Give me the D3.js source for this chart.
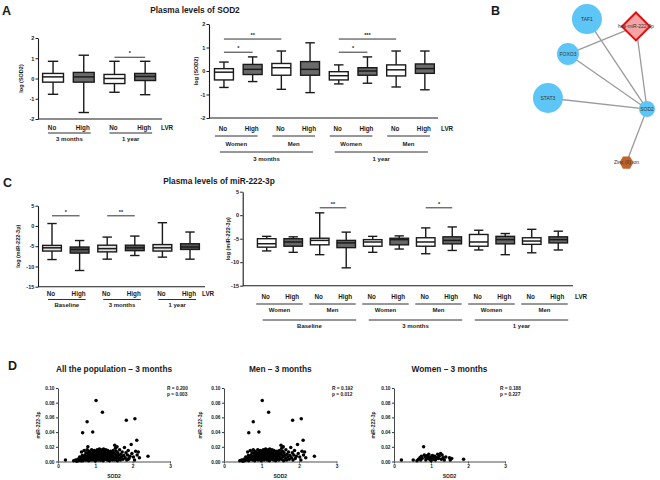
<!DOCTYPE html>
<html><head><meta charset="utf-8">
<script src="https://cdn.jsdelivr.net/npm/d3@7"></script>
<style>body{margin:0;background:#fff}</style>
</head><body>
<svg id="chart" width="660" height="480"></svg>
<script>
// ================= DATA =================
const lvr = ["No", "High"];
const sodTicks = [-2, -1, 0, 1, 2];
const mirTicks = [-15, -10, -5, 0, 5];
const scatterYTicks = [0, 0.02, 0.04, 0.06, 0.08, 0.10];
const scatterXTicks = [0, 1, 2, 3];
const timeTwo = ["3 months", "1 year"];
const timeThree = ["Baseline", "3 months", "1 year"];
const sexTwo = ["Women", "Men", "Women", "Men"];
const sexThree = ["Women", "Men", "Women", "Men", "Women", "Men"];

// box stats: [min, q1, median, q3, max]
const sodByTime = [
  [-0.78, -0.18, 0.08, 0.25, 0.85],
  [-1.68, -0.18, 0.08, 0.30, 1.15],
  [-0.68, -0.25, 0.00, 0.20, 0.85],
  [-0.80, -0.10, 0.10, 0.25, 0.85]
];
const sodBySex = [
  [-0.70, -0.38, -0.05, 0.10, 0.38],
  [-0.45, -0.15, 0.07, 0.28, 0.60],
  [-0.78, -0.18, 0.14, 0.32, 0.85],
  [-0.92, -0.18, 0.07, 0.40, 1.20],
  [-0.55, -0.38, -0.20, -0.03, 0.26],
  [-0.52, -0.18, 0.00, 0.14, 0.60],
  [-0.68, -0.21, 0.05, 0.26, 0.85],
  [-0.80, -0.10, 0.10, 0.30, 0.85]
];
const mirByTime = [
  [-8.3, -6.2, -5.4, -4.8, 0.6],
  [-11.0, -6.7, -5.8, -5.2, -3.6],
  [-8.2, -6.4, -5.6, -4.75, -2.75],
  [-7.3, -6.1, -5.4, -4.75, -2.5],
  [-7.7, -6.2, -5.4, -4.6, 0.8],
  [-8.2, -5.8, -5.2, -4.4, -1.5]
];
const mirBySex = [
  [-7.6, -6.8, -6.07, -5.0, -4.5],
  [-7.9, -6.6, -5.7, -5.0, -4.6],
  [-8.4, -6.3, -5.36, -4.9, 0.5],
  [-11.2, -6.9, -5.9, -5.36, -3.6],
  [-7.9, -6.6, -5.7, -5.2, -4.5],
  [-7.2, -6.3, -5.2, -4.9, -4.4],
  [-8.2, -6.6, -5.7, -4.8, -2.7],
  [-7.5, -6.1, -5.36, -4.6, -2.5],
  [-7.4, -6.6, -5.7, -4.1, -3.2],
  [-8.4, -6.1, -5.2, -4.5, -3.9],
  [-8.0, -6.2, -5.5, -4.8, -3.0],
  [-7.4, -5.9, -5.2, -4.6, -3.4]
];
// significance: [boxA, boxB, level, label]
const sigSodByTime = [[2, 3, 1.05, "*"]];
const sigSodBySex = [[0, 1, 0.8, "*"], [0, 2, 1.36, "**"], [4, 5, 0.8, "*"], [4, 6, 1.36, "***"]];
const sigMirByTime = [[0, 1, 2.5, "*"], [2, 3, 2.5, "**"]];
const sigMirBySex = [[2, 3, 1.57, "**"], [6, 7, 1.57, "*"]];

// network
const netNodes = [
  {id: "TAF1", type: "gene"}, {id: "hsa-miR-222-3p", type: "mirna"}, {id: "FOXO3", type: "gene"},
  {id: "STAT3", type: "gene"}, {id: "SOD2", type: "gene"}, {id: "Zinc (II) ion", type: "chem"}
];
const netEdges = [
  ["TAF1", "SOD2"], ["hsa-miR-222-3p", "SOD2"], ["hsa-miR-222-3p", "FOXO3"],
  ["FOXO3", "SOD2"], ["STAT3", "SOD2"], ["SOD2", "Zinc (II) ion"]
];

// scatter: [SOD2, miR-222-3p]
const menPoints = [
  [1.02,0.083],[1.19,0.067],[0.78,0.054],[0.66,0.039],[0.93,0.040],[1.83,0.056],[2.06,0.058],[2.11,0.029],
  [0.42,0.001],[0.47,0.002],[0.50,0.0005],[0.53,0.003],[0.55,0.001],[0.58,0.006],[0.60,0.002],[0.62,0.004],
  [0.63,0.013],[0.65,0.008],[0.66,0.001],[0.68,0.005],[0.70,0.015],[0.71,0.003],[0.72,0.009],[0.74,0.006],
  [0.75,0.012],[0.76,0.002],[0.78,0.016],[0.79,0.007],[0.80,0.004],[0.80,0.011],
  [0.82,0.001],[0.83,0.014],[0.84,0.006],[0.85,0.009],[0.86,0.003],[0.87,0.012],[0.88,0.005],[0.90,0.016],
  [0.90,0.008],[0.91,0.002],[0.92,0.011],[0.93,0.006],[0.94,0.013],[0.95,0.003],[0.96,0.009],[0.97,0.015],
  [0.98,0.005],[0.99,0.001],[1.00,0.011],[1.00,0.007],
  [1.01,0.003],[1.02,0.014],[1.03,0.009],[1.04,0.005],[1.05,0.016],[1.06,0.012],[1.07,0.002],[1.08,0.008],
  [1.09,0.013],[1.10,0.004],[1.11,0.017],[1.12,0.010],[1.13,0.006],[1.14,0.015],[1.15,0.002],[1.16,0.011],
  [1.17,0.007],[1.18,0.016],[1.19,0.004],[1.20,0.013],[1.20,0.009],
  [1.21,0.001],[1.22,0.017],[1.23,0.006],[1.24,0.011],[1.25,0.014],[1.26,0.003],[1.27,0.008],[1.28,0.016],
  [1.29,0.005],[1.30,0.012],[1.31,0.009],[1.32,0.002],[1.33,0.015],[1.34,0.007],[1.35,0.011],[1.36,0.004],
  [1.37,0.013],[1.38,0.001],[1.39,0.009],[1.40,0.006],
  [1.41,0.014],[1.42,0.003],[1.43,0.010],[1.44,0.007],[1.45,0.012],[1.46,0.002],[1.47,0.008],[1.48,0.015],
  [1.50,0.005],[1.51,0.011],[1.52,0.022],[1.53,0.003],[1.54,0.018],[1.55,0.009],[1.56,0.014],[1.57,0.006],
  [1.58,0.020],[1.59,0.001],[1.60,0.012],
  [1.62,0.008],[1.64,0.004],[1.65,0.016],[1.67,0.002],[1.68,0.010],[1.70,0.006],[1.72,0.013],[1.74,0.003],
  [1.76,0.008],[1.78,0.019],[1.80,0.005],[1.82,0.012],[1.84,0.002],[1.86,0.009],[1.88,0.015],[1.90,0.004],
  [1.93,0.007],[1.96,0.023],[1.98,0.011],
  [2.02,0.006],[2.05,0.002],[2.08,0.014],[2.12,0.009],[2.15,0.013],[2.18,0.005],[2.41,0.007]
];
const womenPoints = [
  [0.20,0.002],[0.52,0.002],[0.62,0.001],[0.66,0.003],[0.70,0.005],[0.72,0.002],[0.74,0.007],[0.76,0.004],
  [0.80,0.020],[0.82,0.009],[0.84,0.006],[0.86,0.002],[0.88,0.004],[0.90,0.008],[0.92,0.005],[0.94,0.010],
  [0.96,0.003],[0.98,0.006],[1.00,0.001],[1.02,0.004],[1.04,0.008],[1.06,0.003],[1.08,0.006],[1.10,0.007],
  [1.12,0.002],[1.15,0.005],[1.18,0.010],[1.20,0.004],[1.22,0.007],[1.26,0.011],[1.28,0.003],[1.30,0.009],
  [1.33,0.005],[1.36,0.002],[1.40,0.006],[1.50,0.005],[1.52,0.002],[1.56,0.004],[1.88,0.003]
];
const corrStats = [
  {title: "All the population \u2013 3 months", R: "0.200", p: "0.003"},
  {title: "Men \u2013 3 months", R: "0.192", p: "0.012"},
  {title: "Women \u2013 3 months", R: "0.188", p: "0.227"}
];

// ================= DRAWING =================
const svg = d3.select("#chart");
const FONT = "'Liberation Sans', Arial, Helvetica, sans-serif";
const INK = "#1a1a1a";

function addText(g, x, y, s, size, anchor = "middle", weight = "bold", fill = INK) {
  return g.append("text").attr("x", x).attr("y", y).attr("font-size", size)
    .attr("font-weight", weight).attr("text-anchor", anchor).attr("fill", fill)
    .attr("font-family", FONT).text(s);
}
function addVText(g, x, y, s, size) {
  return g.append("text").attr("transform", `translate(${x},${y}) rotate(-90)`)
    .attr("font-size", size).attr("font-weight", "bold").attr("text-anchor", "middle")
    .attr("fill", INK).attr("font-family", FONT).text(s);
}

function boxPanel(c) {
  const g = svg.append("g");
  const y = d3.scaleLinear().domain(c.domain).range(c.yRange);
  const x = d3.scaleBand().domain(d3.range(c.stats.length)).range(c.band);
  const step = x.step(), bw = step * c.boxRatio, cap = bw * 0.5;
  const cx = i => x(i) + step / 2;

  const ax = g.append("g").attr("transform", `translate(${c.axisX},0)`)
    .call(d3.axisLeft(y).tickValues(c.ticks).tickSize(2.5).tickSizeOuter(0).tickPadding(1.2).tickFormat(d => String(d)));
  ax.select(".domain").attr("stroke", INK).attr("stroke-width", 1.1);
  ax.selectAll(".tick line").attr("stroke", INK).attr("stroke-width", 1);
  ax.selectAll(".tick text").attr("font-size", 5.5).attr("font-weight", "bold")
    .attr("font-family", FONT).attr("fill", INK);
  const yb = y(c.domain[0]);
  g.append("line").attr("x1", c.axisX).attr("x2", c.axisEnd).attr("y1", yb).attr("y2", yb)
    .attr("stroke", INK).attr("stroke-width", 1.1);
  addVText(g, c.ylabelX, (c.yRange[0] + c.yRange[1]) / 2, c.ylabel, 5.5);

  c.stats.forEach((s, i) => {
    const [mn, q1, md, q3, mx] = s;
    const xc = cx(i);
    const bg = g.append("g").attr("stroke", INK).attr("stroke-width", 1.4);
    bg.append("line").attr("x1", xc).attr("x2", xc).attr("y1", y(mn)).attr("y2", y(mx));
    bg.append("line").attr("x1", xc - cap / 2).attr("x2", xc + cap / 2).attr("y1", y(mn)).attr("y2", y(mn));
    bg.append("line").attr("x1", xc - cap / 2).attr("x2", xc + cap / 2).attr("y1", y(mx)).attr("y2", y(mx));
    bg.append("rect").attr("x", xc - bw / 2).attr("width", bw).attr("y", y(q3)).attr("height", y(q1) - y(q3))
      .attr("fill", c.fills[i % 2]);
    bg.append("line").attr("x1", xc - bw / 2).attr("x2", xc + bw / 2).attr("y1", y(md)).attr("y2", y(md))
      .attr("stroke-width", 1.5);
  });

  c.sig.forEach(([a, b, lvl, lab]) => {
    g.append("line").attr("x1", cx(a)).attr("x2", cx(b)).attr("y1", y(lvl)).attr("y2", y(lvl))
      .attr("stroke", INK).attr("stroke-width", 0.9);
    addText(g, (cx(a) + cx(b)) / 2, y(lvl) - 2.2, lab, 5.5);
  });

  c.stats.forEach((s, i) => addText(g, cx(i) - 1, c.row1Y, lvr[i % 2], 6.3));
  addText(g, c.lvrX, c.row1Y, "LVR", 6.3, "start");

  c.levels.forEach(lv => {
    lv.labels.forEach((lab, k) => {
      const x1 = cx(k * lv.size) + lv.padL, x2 = cx(k * lv.size + lv.size - 1) + lv.padR;
      g.append("line").attr("x1", x1).attr("x2", x2).attr("y1", lv.lineY).attr("y2", lv.lineY)
        .attr("stroke", INK).attr("stroke-width", 0.9);
      addText(g, (x1 + x2) / 2, lv.textY, lab, 6);
    });
  });
}

function scatterPanel(c) {
  const g = svg.append("g");
  const x = d3.scaleLinear().domain([0, 3]).range(c.xRange);
  const y = d3.scaleLinear().domain([0, 0.1]).range([461.5, 388]);
  const ay = g.append("g").attr("transform", `translate(${c.xRange[0]},0)`)
    .call(d3.axisLeft(y).tickValues(scatterYTicks).tickSize(2).tickSizeOuter(0).tickPadding(1.5).tickFormat(d3.format(".2f")));
  ay.select(".domain").attr("stroke", "#333").attr("stroke-width", 0.9);
  ay.selectAll(".tick line").attr("stroke", "#333");
  const axx = g.append("g").attr("transform", `translate(0,${y(0)})`)
    .call(d3.axisBottom(x).tickValues(scatterXTicks).tickSize(2).tickSizeOuter(0).tickPadding(1.5).tickFormat(d3.format("d")));
  axx.select(".domain").attr("stroke", "#8a8a8a").attr("stroke-width", 1.3);
  axx.selectAll(".tick line").attr("stroke", "#555");
  [ay, axx].forEach(a => a.selectAll(".tick text").attr("font-size", 4.8).attr("font-weight", "bold")
    .attr("font-family", FONT).attr("fill", INK));
  g.selectAll("circle.pt").data(c.points).join("circle").attr("class", "pt")
    .attr("cx", d => x(d[0])).attr("cy", d => y(d[1])).attr("r", 1.75).attr("fill", "#000");
  const mid = (c.xRange[0] + c.xRange[1]) / 2;
  addText(g, mid, 372, c.stat.title, 8.3);
  addText(g, mid, 478, "SOD2", 5);
  addVText(g, c.ylabelX, 425, "miR-222-3p", 5);
  addText(g, c.statX, 390, "R = " + c.stat.R, 4.8, "start");
  addText(g, c.statX, 396, "p =  " + c.stat.p, 4.8, "start");
}

// panel letters and titles
const heads = svg.append("g");
addText(heads, 2, 15, "A", 12.5, "start");
addText(heads, 491, 15, "B", 12.5, "start");
addText(heads, 3, 187, "C", 12.5, "start");
addText(heads, 8, 370, "D", 12.5, "start");
addText(heads, 195, 13, "Plasma levels of SOD2", 8.3);
addText(heads, 219, 184, "Plasma levels of miR-222-3p", 8.3);

// Panel A
boxPanel({
  stats: sodByTime, domain: [-2, 2], yRange: [119, 38], band: [37.7, 160.5], axisX: 38, axisEnd: 162,
  ticks: sodTicks, boxRatio: 0.68, fills: ["#ffffff", "#6b6b6b"], ylabel: "log (SOD2)", ylabelX: 23,
  sig: sigSodByTime, row1Y: 129.5, lvrX: 161,
  levels: [{size: 2, labels: timeTwo, lineY: 133, textY: 140.5, padL: -5, padR: 7}]
});
boxPanel({
  stats: sodBySex, domain: [-2, 2], yRange: [118, 24], band: [209.6, 439.2], axisX: 209, axisEnd: 438,
  ticks: sodTicks, boxRatio: 0.66, fills: ["#ffffff", "#6b6b6b"], ylabel: "log (SOD2)", ylabelX: 198,
  sig: sigSodBySex, row1Y: 130.5, lvrX: 441,
  levels: [
    {size: 2, labels: sexTwo, lineY: 136, textY: 145.5, padL: -9, padR: 5},
    {size: 4, labels: timeTwo, lineY: 152, textY: 161, padL: -4, padR: 3}
  ]
});

// Panel C
boxPanel({
  stats: mirByTime, domain: [-15, 5], yRange: [286.7, 205.7], band: [38.2, 203.8], axisX: 38, axisEnd: 205,
  ticks: mirTicks, boxRatio: 0.68, fills: ["#e2e2e2", "#555555"], ylabel: "log (miR-222-3p)", ylabelX: 20,
  sig: sigMirByTime, row1Y: 295.5, lvrX: 202,
  levels: [{size: 2, labels: timeThree, lineY: 299.5, textY: 307, padL: -4, padR: 6}]
});
boxPanel({
  stats: mirBySex, domain: [-15, 5], yRange: [285.7, 191.7], band: [253.45, 571.5], axisX: 242.7, axisEnd: 573,
  ticks: mirTicks, boxRatio: 0.7, fills: ["#ffffff", "#666666"], ylabel: "log (miR-222-3p)", ylabelX: 229.5,
  sig: sigMirBySex, row1Y: 299, lvrX: 575,
  levels: [
    {size: 2, labels: sexThree, lineY: 304, textY: 312, padL: -10.5, padR: 9.5},
    {size: 4, labels: timeThree, lineY: 320, textY: 328, padL: -4, padR: 10}
  ]
});

// Panel B network
const netLayout = {
  "TAF1": [43.8, 10.9, 15], "hsa-miR-222-3p": [81.5, 15.1, 14], "FOXO3": [29.2, 30.9, 11],
  "STAT3": [13.8, 56, 15], "SOD2": [90, 62.3, 8], "Zinc (II) ion": [74.2, 92.9, 7]
};
const nx = d3.scaleLinear().domain([0, 100]).range([530, 660]);
const ny = d3.scaleLinear().domain([0, 100]).range([0, 175]);
const gb = svg.append("g");
const pos = id => [nx(netLayout[id][0]), ny(netLayout[id][1])];
gb.selectAll("line.edge").data(netEdges).join("line").attr("class", "edge")
  .attr("x1", d => pos(d[0])[0]).attr("y1", d => pos(d[0])[1])
  .attr("x2", d => pos(d[1])[0]).attr("y2", d => pos(d[1])[1])
  .attr("stroke", "#9a9a9a").attr("stroke-width", 1.3);
netNodes.forEach(n => {
  const [px, py] = pos(n.id), r = netLayout[n.id][2];
  if (n.type === "gene") {
    gb.append("circle").attr("cx", px).attr("cy", py).attr("r", r).attr("fill", "#5ec6f6");
  } else if (n.type === "mirna") {
    gb.append("path").attr("d", `M${px},${py - r}L${px + r},${py}L${px},${py + r}L${px - r},${py}Z`)
      .attr("fill", "#f5a3a3").attr("stroke", "#e01010").attr("stroke-width", 2);
  } else {
    const pts = d3.range(6).map(k => {
      const a = Math.PI / 3 * k;
      return [px + r * Math.cos(a), py + r * Math.sin(a)];
    });
    gb.append("path").attr("d", "M" + pts.map(p => p.join(",")).join("L") + "Z").attr("fill", "#c2632b");
  }
  addText(gb, px, py + 1.8, n.id, 5, "middle", "normal", "#333");
});

// Panel D
scatterPanel({points: menPoints.concat(womenPoints), xRange: [58, 170], stat: corrStats[0], statX: 167, ylabelX: 40});
scatterPanel({points: menPoints, xRange: [224, 336.5], stat: corrStats[1], statX: 332, ylabelX: 202});
scatterPanel({points: womenPoints, xRange: [394, 505], stat: corrStats[2], statX: 500, ylabelX: 375});
</script>
</body></html>
